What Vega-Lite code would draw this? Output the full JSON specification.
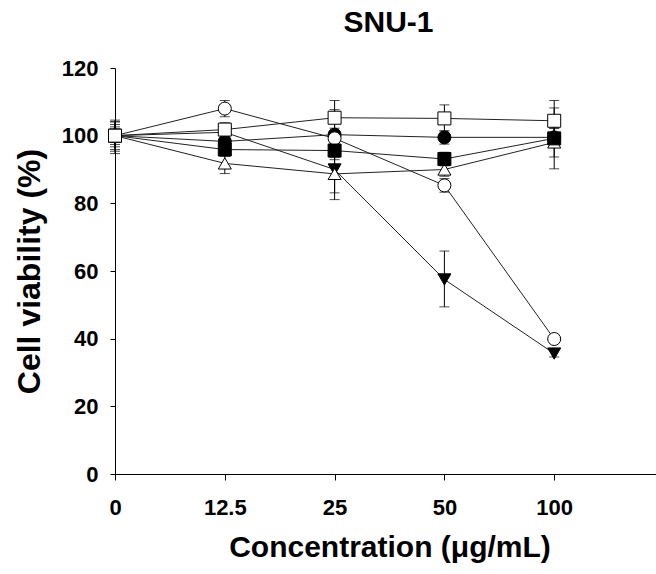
{
  "$schema": "https://vega.github.io/schema/vega-lite/v6.json",
  "autosize": {"type": "none"},
  "padding": {"left": 115, "top": 68, "right": 0, "bottom": 100},
  "width": 541,
  "height": 406,
  "background": "white",
  "config": {
    "view": {"stroke": null},
    "font": "Liberation Sans"
  },
  "title": {
    "text": "SNU-1",
    "fontSize": 30,
    "fontWeight": "bold",
    "font": "Liberation Sans",
    "color": "black",
    "anchor": "middle",
    "frame": "group",
    "dx": 3,
    "offset": 19
  },
  "data": {
    "values": [
      {"series": "B", "conc": "0", "v": 100, "lo": 96.7, "hi": 103.3},
      {"series": "B", "conc": "12.5", "v": 98.3, "lo": 96.3, "hi": 100.3},
      {"series": "B", "conc": "25", "v": 100.3, "lo": 92.9, "hi": 107.7},
      {"series": "B", "conc": "50", "v": 99.5, "lo": 97.5, "hi": 101.5},
      {"series": "B", "conc": "100", "v": 99.5, "lo": 96.9, "hi": 102.1},
      {"series": "A", "conc": "0", "v": 100, "lo": 97.4, "hi": 102.6},
      {"series": "A", "conc": "12.5", "v": 108, "lo": 105.6, "hi": 110.4},
      {"series": "A", "conc": "25", "v": 99.2, "lo": 96.2, "hi": 102.2},
      {"series": "A", "conc": "50", "v": 85.3, "lo": 83.3, "hi": 87.3},
      {"series": "A", "conc": "100", "v": 39.9, "lo": 38.9, "hi": 40.9},
      {"series": "F", "conc": "0", "v": 100, "lo": 98, "hi": 102},
      {"series": "F", "conc": "12.5", "v": 101, "lo": 99, "hi": 103},
      {"series": "F", "conc": "25", "v": 90, "lo": 81.1, "hi": 98.9},
      {"series": "F", "conc": "50", "v": 57.5, "lo": 49.4, "hi": 65.9},
      {"series": "F", "conc": "100", "v": 35.6, "lo": 34.6, "hi": 36.6},
      {"series": "E", "conc": "0", "v": 100, "lo": 95.4, "hi": 104.6},
      {"series": "E", "conc": "12.5", "v": 91.8, "lo": 88.8, "hi": 94.8},
      {"series": "E", "conc": "25", "v": 88.7, "lo": 83.1, "hi": 94.3},
      {"series": "E", "conc": "50", "v": 90, "lo": 88, "hi": 92},
      {"series": "E", "conc": "100", "v": 98, "lo": 93.7, "hi": 102.3},
      {"series": "D", "conc": "0", "v": 100, "lo": 95.9, "hi": 104.1},
      {"series": "D", "conc": "12.5", "v": 95.9, "lo": 93.9, "hi": 97.9},
      {"series": "D", "conc": "25", "v": 95.6, "lo": 93.6, "hi": 97.6},
      {"series": "D", "conc": "50", "v": 93.1, "lo": 91.1, "hi": 95.1},
      {"series": "D", "conc": "100", "v": 99.2, "lo": 90.2, "hi": 108.2},
      {"series": "C", "conc": "0", "v": 100, "lo": 94.7, "hi": 104.1},
      {"series": "C", "conc": "12.5", "v": 101.8, "lo": 99.8, "hi": 103.8},
      {"series": "C", "conc": "25", "v": 105.3, "lo": 100.2, "hi": 110.4},
      {"series": "C", "conc": "50", "v": 105.1, "lo": 101.1, "hi": 109.1},
      {"series": "C", "conc": "100", "v": 104.4, "lo": 98.4, "hi": 110.4}
    ]
  },
  "encoding": {
    "x": {
      "field": "conc",
      "type": "ordinal",
      "scale": {"type": "point", "domain": ["0", "12.5", "25", "50", "100", " "], "range": [0, 549], "padding": 0},
      "axis": {
        "title": "Concentration (μg/mL)",
        "labelAngle": 0,
        "labelFontSize": 22,
        "labelFontWeight": "bold",
        "labelColor": "black",
        "labelPadding": 17,
        "tickSize": 6,
        "tickColor": "black",
        "domainColor": "black",
        "grid": false,
        "titleFontSize": 30,
        "titleFontWeight": "bold",
        "titleColor": "black",
        "titlePadding": 14
      }
    },
    "y": {
      "field": "v",
      "type": "quantitative",
      "scale": {"domain": [0, 120], "nice": false, "zero": true},
      "axis": {
        "title": "Cell viability (%)",
        "values": [0, 20, 40, 60, 80, 100, 120],
        "labelFontSize": 22,
        "labelFontWeight": "bold",
        "labelColor": "black",
        "labelPadding": 12,
        "tickSize": 5,
        "tickColor": "black",
        "domainColor": "black",
        "grid": false,
        "titleFontSize": 32,
        "titleFontWeight": "bold",
        "titleColor": "black",
        "titlePadding": 15
      }
    }
  },
  "layer": [
    {
      "mark": {"type": "line", "color": "#222222", "strokeWidth": 1},
      "encoding": {"detail": {"field": "series"}}
    },
    {
      "mark": {"type": "rule", "color": "black", "strokeWidth": 1},
      "encoding": {
        "y": {"field": "lo", "type": "quantitative"},
        "y2": {"field": "hi"}
      }
    },
    {
      "mark": {"type": "tick", "color": "black", "size": 10, "thickness": 1},
      "encoding": {"y": {"field": "lo", "type": "quantitative"}}
    },
    {
      "mark": {"type": "tick", "color": "black", "size": 10, "thickness": 1},
      "encoding": {"y": {"field": "hi", "type": "quantitative"}}
    },
    {
      "mark": {"type": "point", "stroke": "black", "strokeWidth": 1, "opacity": 1, "filled": false},
      "encoding": {
        "shape": {
          "field": "series",
          "type": "nominal",
          "scale": {"domain": ["A", "B", "C", "D", "E", "F"], "range": ["circle", "circle", "square", "square", "triangle-up", "triangle-down"]},
          "legend": null
        },
        "fill": {
          "field": "series",
          "type": "nominal",
          "scale": {"domain": ["A", "B", "C", "D", "E", "F"], "range": ["white", "black", "white", "black", "white", "black"]},
          "legend": null
        },
        "size": {
          "field": "series",
          "type": "nominal",
          "scale": {"domain": ["A", "B", "C", "D", "E", "F"], "range": [169, 169, 144, 144, 170, 190]},
          "legend": null
        }
      }
    }
  ]
}
